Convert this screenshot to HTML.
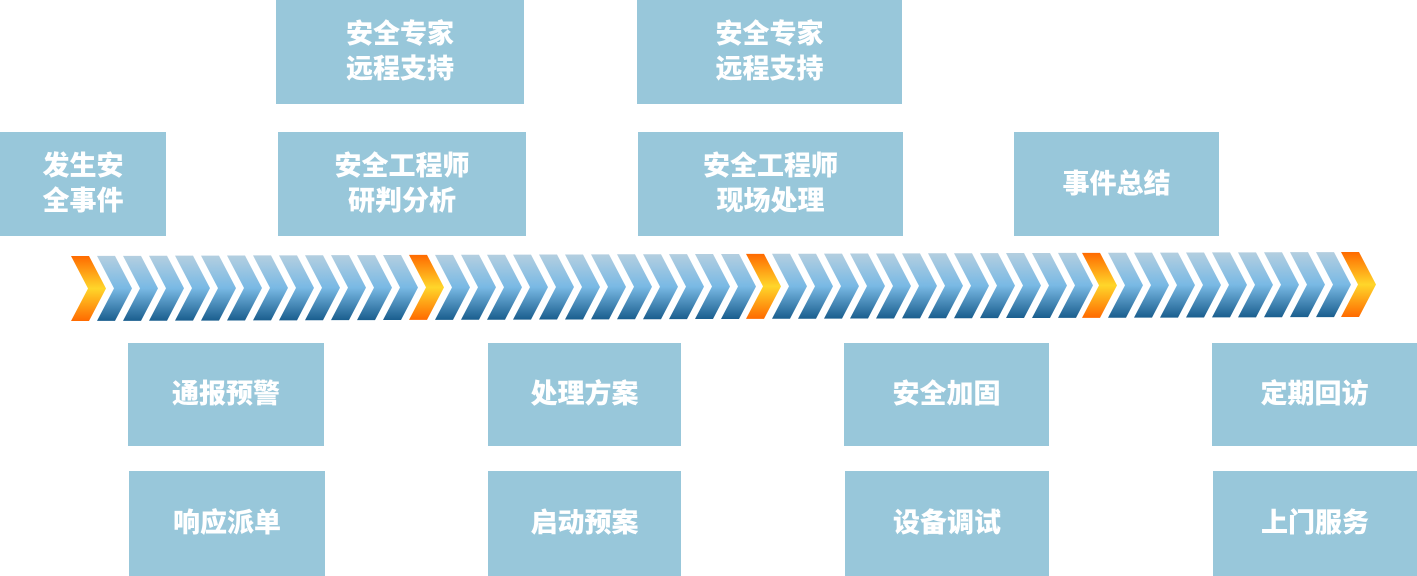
<!DOCTYPE html>
<html><head><meta charset="utf-8"><style>
body{margin:0;width:1417px;height:576px;background:#fff;position:relative;overflow:hidden;font-family:"Liberation Sans","Noto Sans CJK SC",sans-serif}
.b{position:absolute;background:#98c7da;color:#fff;font-weight:900;font-size:27px;line-height:35px;display:flex;align-items:center;justify-content:center;text-align:center}
svg{position:absolute;left:0;top:0}
</style></head><body>
<div class="b" style="left:276px;top:0;width:248px;height:104px">安全专家<br>远程支持</div>
<div class="b" style="left:637px;top:0;width:265px;height:104px">安全专家<br>远程支持</div>
<div class="b" style="left:0;top:132px;width:166px;height:104px">发生安<br>全事件</div>
<div class="b" style="left:278px;top:132px;width:248px;height:104px">安全工程师<br>研判分析</div>
<div class="b" style="left:638px;top:132px;width:265px;height:104px">安全工程师<br>现场处理</div>
<div class="b" style="left:1014px;top:132px;width:205px;height:104px">事件总结</div>
<div class="b" style="left:128px;top:343px;width:196px;height:103px">通报预警</div>
<div class="b" style="left:488px;top:343px;width:193px;height:103px">处理方案</div>
<div class="b" style="left:844px;top:343px;width:205px;height:103px">安全加固</div>
<div class="b" style="left:1212px;top:343px;width:205px;height:103px">定期回访</div>
<div class="b" style="left:129px;top:471px;width:196px;height:105px">响应派单</div>
<div class="b" style="left:488px;top:471px;width:193px;height:105px">启动预案</div>
<div class="b" style="left:845px;top:471px;width:204px;height:105px">设备调试</div>
<div class="b" style="left:1213px;top:471px;width:204px;height:105px">上门服务</div>
<svg id="s" width="1417" height="576">
<defs>
<linearGradient id="bl" x1="0" y1="0" x2="0" y2="1"><stop offset="0" stop-color="#b4cfe0"/><stop offset="0.5" stop-color="#79b9e4"/><stop offset="1" stop-color="#1a5e8e"/></linearGradient>
<linearGradient id="or" x1="0" y1="0" x2="0" y2="1"><stop offset="0" stop-color="#ff6a00"/><stop offset="0.5" stop-color="#ffd62a"/><stop offset="1" stop-color="#ff6a00"/></linearGradient>
</defs>
</svg>
<script>
var s=document.getElementById('s'),h='';
function ch(x,g){var t=256-(x-71)*4/1270,b=t+65,m=(t+b)/2;
h+='<polygon fill="url(#'+g+')" points="'+x+','+t+' '+(x+18)+','+t+' '+(x+35)+','+m+' '+(x+18)+','+b+' '+x+','+b+' '+(x+17)+','+m+'"/>';}
var oranges=[71,409,746,1082,1341];
for(var i=0;i<4;i++){ch(oranges[i],'or');var st=oranges[i]+26;var n=(i==3)?9:12;for(var j=0;j<n;j++)ch(st+j*26,'bl');}
ch(1341,'or');
s.innerHTML+=h;
</script>
</body></html>
